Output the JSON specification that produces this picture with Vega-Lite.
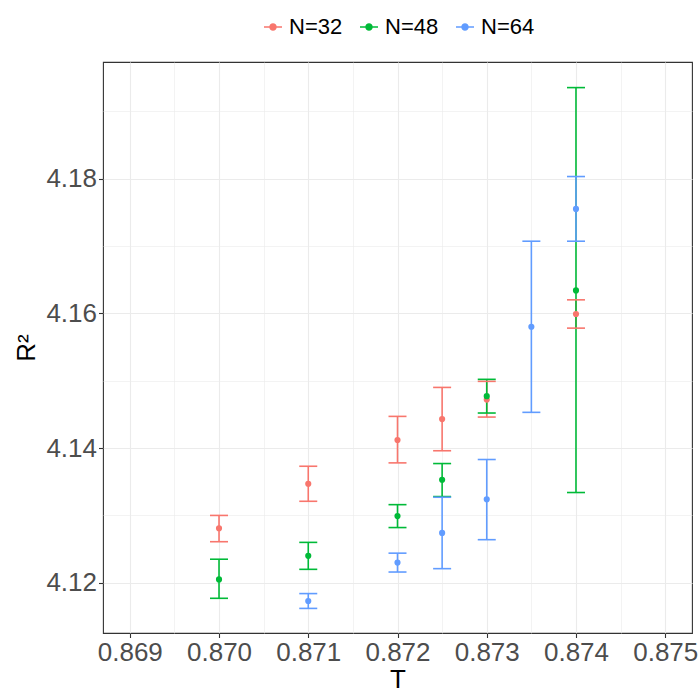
{
  "$schema": "https://vega.github.io/schema/vega-lite/v6.json",
  "width": 589,
  "height": 571,
  "autosize": {"type": "none"},
  "padding": {"left": 103, "top": 62, "right": 8, "bottom": 67},
  "background": "white",
  "config": {
    "view": {"stroke": "#333333", "strokeWidth": 1.1},
    "font": "Liberation Sans"
  },
  "data": {
    "values": [
      {"T": 0.870, "N": "N=32", "R2": 4.1281, "lo": 4.1261, "hi": 4.1300},
      {"T": 0.871, "N": "N=32", "R2": 4.1347, "lo": 4.1321, "hi": 4.1373},
      {"T": 0.872, "N": "N=32", "R2": 4.1412, "lo": 4.1378, "hi": 4.1447},
      {"T": 0.8725, "N": "N=32", "R2": 4.1443, "lo": 4.1396, "hi": 4.1490},
      {"T": 0.873, "N": "N=32", "R2": 4.1472, "lo": 4.1446, "hi": 4.1499},
      {"T": 0.874, "N": "N=32", "R2": 4.1599, "lo": 4.1578, "hi": 4.1620},
      {"T": 0.870, "N": "N=48", "R2": 4.1205, "lo": 4.1177, "hi": 4.1235},
      {"T": 0.871, "N": "N=48", "R2": 4.1240, "lo": 4.1220, "hi": 4.1260},
      {"T": 0.872, "N": "N=48", "R2": 4.1299, "lo": 4.1282, "hi": 4.1316},
      {"T": 0.8725, "N": "N=48", "R2": 4.1353, "lo": 4.1328, "hi": 4.1377},
      {"T": 0.873, "N": "N=48", "R2": 4.1477, "lo": 4.1452, "hi": 4.1502},
      {"T": 0.874, "N": "N=48", "R2": 4.1634, "lo": 4.1334, "hi": 4.1935},
      {"T": 0.871, "N": "N=64", "R2": 4.1173, "lo": 4.1162, "hi": 4.1184},
      {"T": 0.872, "N": "N=64", "R2": 4.1230, "lo": 4.1216, "hi": 4.1244},
      {"T": 0.8725, "N": "N=64", "R2": 4.1274, "lo": 4.1221, "hi": 4.1327},
      {"T": 0.873, "N": "N=64", "R2": 4.1324, "lo": 4.1264, "hi": 4.1383},
      {"T": 0.8735, "N": "N=64", "R2": 4.1580, "lo": 4.1453, "hi": 4.1707},
      {"T": 0.874, "N": "N=64", "R2": 4.1755, "lo": 4.1707, "hi": 4.1803}
    ]
  },
  "layer": [
    {
      "mark": {"type": "point", "opacity": 0},
      "encoding": {
        "x": {
          "field": "T", "type": "quantitative",
          "scale": {"domain": [0.8687, 0.8753], "nice": false, "zero": false},
          "axis": {"orient": "top", "values": [0.8695, 0.8705, 0.8715, 0.8725, 0.8735, 0.8745],
                   "grid": true, "gridColor": "#EBEBEB", "gridWidth": 0.6,
                   "labels": false, "ticks": false, "domain": false, "title": null}
        },
        "y": {
          "field": "R2", "type": "quantitative",
          "scale": {"domain": [4.11255, 4.1973], "nice": false, "zero": false},
          "axis": {"orient": "right", "values": [4.13, 4.15, 4.17, 4.19],
                   "grid": true, "gridColor": "#EBEBEB", "gridWidth": 0.6,
                   "labels": false, "ticks": false, "domain": false, "title": null}
        }
      }
    },
    {
      "encoding": {
        "x": {
          "field": "T", "type": "quantitative",
          "scale": {"domain": [0.8687, 0.8753], "nice": false, "zero": false},
          "axis": {"orient": "bottom", "values": [0.869, 0.870, 0.871, 0.872, 0.873, 0.874, 0.875],
                   "format": ".3f", "grid": true, "gridColor": "#EBEBEB", "gridWidth": 1.1,
                   "domain": false, "tickColor": "#333333", "tickSize": 4.5, "tickWidth": 1.1,
                   "labelFontSize": 26, "labelColor": "#4D4D4D", "labelPadding": 2,
                   "title": "T", "titleFontSize": 26, "titleColor": "black", "titleFontWeight": "normal",
                   "titlePadding": 1}
        },
        "color": {
          "field": "N", "type": "nominal",
          "scale": {"domain": ["N=32", "N=48", "N=64"], "range": ["#F8766D", "#00BA38", "#619CFF"]},
          "legend": {
            "orient": "none", "legendX": 159, "legendY": -46, "direction": "horizontal",
            "title": null, "labelFontSize": 22, "labelColor": "black", "labelFont": "Liberation Sans",
            "symbolType": "M-1,0L1,0M-0.33,0A0.33,0.33 0 1,1 0.33,0A0.33,0.33 0 1,1 -0.33,0Z",
            "symbolSize": 324, "symbolStrokeWidth": 1.5, "columnPadding": 14, "labelOffset": 5,
            "encode": {"symbols": {"update": {"fill": {"scale": "color", "field": "value"}, "stroke": {"scale": "color", "field": "value"}, "opacity": {"value": 1}}}}
          }
        }
      },
      "layer": [
        {
          "mark": {"type": "rule", "strokeWidth": 1.6},
          "encoding": {
            "y": {"field": "lo", "type": "quantitative",
                  "scale": {"domain": [4.11255, 4.1973], "nice": false, "zero": false},
                  "axis": {"orient": "left", "values": [4.12, 4.14, 4.16, 4.18], "format": ".2f",
                           "grid": true, "gridColor": "#EBEBEB", "gridWidth": 1.1,
                           "domain": false, "tickColor": "#333333", "tickSize": 4.5, "tickWidth": 1.1,
                           "labelFontSize": 26, "labelColor": "#4D4D4D", "labelPadding": 2,
                           "title": "R²", "titleFontSize": 26, "titleColor": "black", "titleFontWeight": "normal",
                           "titlePadding": 6}},
            "y2": {"field": "hi"}
          }
        },
        {
          "mark": {"type": "tick", "orient": "horizontal", "size": 18, "thickness": 1.6, "opacity": 1},
          "encoding": {
            "y": {"field": "lo", "type": "quantitative",
                  "scale": {"domain": [4.11255, 4.1973], "nice": false, "zero": false},
                  "axis": {"orient": "left", "values": [4.12, 4.14, 4.16, 4.18], "format": ".2f",
                           "grid": true, "gridColor": "#EBEBEB", "gridWidth": 1.1,
                           "domain": false, "tickColor": "#333333", "tickSize": 4.5, "tickWidth": 1.1,
                           "labelFontSize": 26, "labelColor": "#4D4D4D", "labelPadding": 2,
                           "title": "R²", "titleFontSize": 26, "titleColor": "black", "titleFontWeight": "normal",
                           "titlePadding": 6}}
          }
        },
        {
          "mark": {"type": "tick", "orient": "horizontal", "size": 18, "thickness": 1.6, "opacity": 1},
          "encoding": {
            "y": {"field": "hi", "type": "quantitative",
                  "scale": {"domain": [4.11255, 4.1973], "nice": false, "zero": false},
                  "axis": {"orient": "left", "values": [4.12, 4.14, 4.16, 4.18], "format": ".2f",
                           "grid": true, "gridColor": "#EBEBEB", "gridWidth": 1.1,
                           "domain": false, "tickColor": "#333333", "tickSize": 4.5, "tickWidth": 1.1,
                           "labelFontSize": 26, "labelColor": "#4D4D4D", "labelPadding": 2,
                           "title": "R²", "titleFontSize": 26, "titleColor": "black", "titleFontWeight": "normal",
                           "titlePadding": 6}}
          }
        },
        {
          "mark": {"type": "point", "filled": true, "size": 38, "opacity": 1},
          "encoding": {
            "y": {"field": "R2", "type": "quantitative",
                  "scale": {"domain": [4.11255, 4.1973], "nice": false, "zero": false},
                  "axis": {"orient": "left", "values": [4.12, 4.14, 4.16, 4.18], "format": ".2f",
                           "grid": true, "gridColor": "#EBEBEB", "gridWidth": 1.1,
                           "domain": false, "tickColor": "#333333", "tickSize": 4.5, "tickWidth": 1.1,
                           "labelFontSize": 26, "labelColor": "#4D4D4D", "labelPadding": 2,
                           "title": "R²", "titleFontSize": 26, "titleColor": "black", "titleFontWeight": "normal",
                           "titlePadding": 6}}
          }
        }
      ]
    }
  ],
  "resolve": {"axis": {"x": "independent", "y": "independent"}}
}
